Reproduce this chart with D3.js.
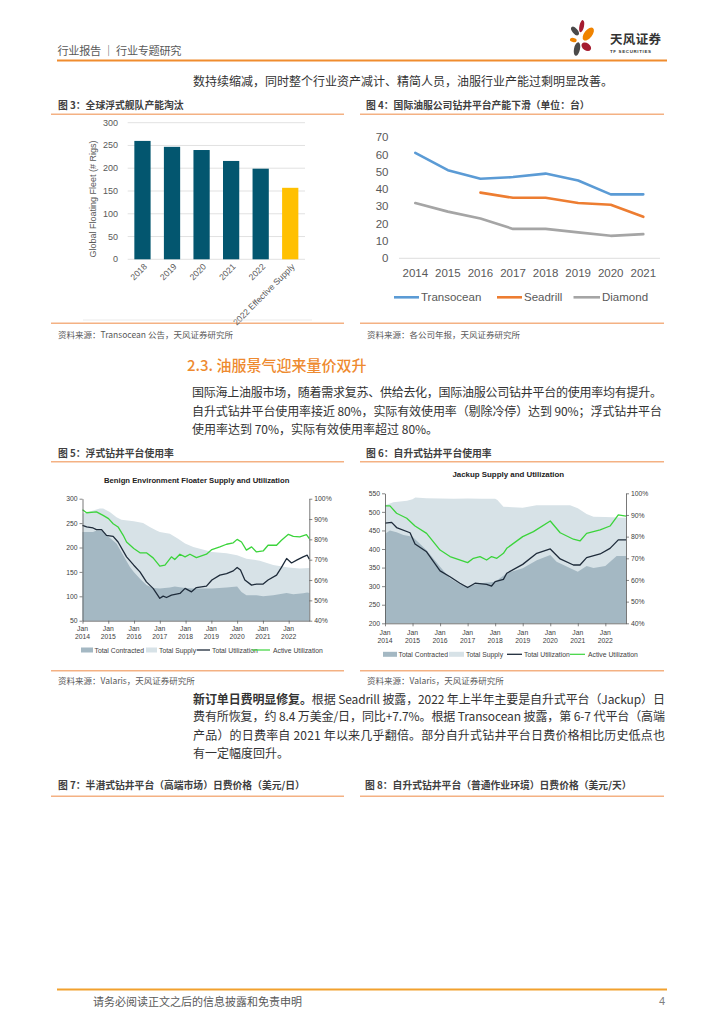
<!DOCTYPE html>
<html><head><meta charset="utf-8">
<script src="https://cdn.jsdelivr.net/npm/d3@7"></script>
<style>
body{margin:0;background:#fff;}
svg{display:block;}
text{font-family:"Noto Sans CJK SC","Liberation Sans",sans-serif;}
</style></head><body>
<svg id="page" width="724" height="1024"></svg>
<script>
// ---------- DATA ----------
const fleetCategories = ["2018","2019","2020","2021","2022","2022 Effective Supply"];
const fleetValues = [260,247,240,216,199,157];
const fleetTicks = [0,50,100,150,200,250,300];

const rigYears = ["2014","2015","2016","2017","2018","2019","2020","2021"];
const transoceanRigs = [61,51,46,47,49,45,37,37];
const seadrillRigs = [null,null,38,35,35,32,31,24];
const diamondRigs = [32,27,23,17,17,15,13,14];
const rigTicks = [0,10,20,30,40,50,60,70];

const yearTicks = [2014,2015,2016,2017,2018,2019,2020,2021,2022];

// Floater (benign environment): [decimal year, value]
const floaterSupply = [[2014.0,269],[2014.67,280],[2014.8,280],[2015.06,273],[2015.32,262],[2015.51,257],[2015.99,254],[2016.35,250],[2016.61,242],[2016.87,235],[2017.0,232],[2017.39,228],[2017.71,218],[2017.98,208],[2018.3,201],[2018.81,194],[2019.02,191],[2019.59,188],[2020.0,184],[2020.36,177],[2020.88,173],[2021.4,164],[2021.99,159],[2022.43,157],[2022.8,158]];
const floaterContracted = [[2014.0,232],[2014.41,232],[2014.54,235],[2014.74,235],[2015.01,222],[2015.32,208],[2015.58,184],[2015.84,160],[2015.99,150],[2016.23,136],[2016.48,123],[2016.74,117],[2017.0,116],[2017.39,118],[2017.58,120],[2017.98,117],[2018.3,116],[2019.02,116],[2019.59,118],[2020.0,120],[2020.17,109],[2020.36,102],[2020.75,102],[2021.01,100],[2021.4,102],[2021.92,107],[2022.18,104],[2022.56,106],[2022.72,108],[2022.8,107]];
const floaterTotalUtil = [[2014.0,86.9],[2014.16,86.1],[2014.41,85.6],[2014.54,84.8],[2014.74,84.8],[2014.93,82],[2015.19,81.5],[2015.38,78.7],[2015.71,71.4],[2015.99,67.3],[2016.23,64],[2016.48,59.1],[2016.74,55.9],[2017.0,51],[2017.13,52.1],[2017.26,51.4],[2017.45,52.6],[2017.78,53.4],[2017.98,55.9],[2018.23,54.2],[2018.42,56.3],[2018.81,57],[2019.02,60],[2019.33,62.4],[2019.59,63.2],[2019.85,64.5],[2020.0,66.2],[2020.13,64.9],[2020.3,60],[2020.56,57.5],[2020.75,58],[2021.01,58],[2021.2,60],[2021.53,62.4],[2021.72,66.2],[2021.92,70.6],[2022.11,68.4],[2022.31,69.8],[2022.56,71.4],[2022.72,72.2],[2022.8,70.2]];
const floaterActiveUtil = [[2014.0,94.6],[2014.16,93.1],[2014.54,93.5],[2014.8,91.8],[2015.01,90.2],[2015.19,87.7],[2015.38,86.1],[2015.58,82],[2015.71,78.7],[2015.99,75.5],[2016.23,73.4],[2016.48,73.4],[2016.74,70.9],[2017.0,66.8],[2017.2,67.3],[2017.45,71.4],[2017.58,70.1],[2017.78,72.7],[2017.98,71.4],[2018.17,72.7],[2018.42,71],[2018.81,72.7],[2019.02,75],[2019.33,76.3],[2019.59,77.6],[2019.85,78.3],[2020.0,80],[2020.17,78.7],[2020.36,74.7],[2020.56,76.3],[2020.75,73.8],[2021.01,74.3],[2021.2,77.1],[2021.53,77.1],[2021.72,79.6],[2021.99,82.5],[2022.18,81.5],[2022.43,81.2],[2022.69,82.3],[2022.8,80.4]];
const floaterLeftTicks = [50,100,150,200,250,300];

// Jackup
const jackupSupply = [[2014.0,518],[2014.3,526],[2014.8,530],[2015.0,534],[2015.1,539],[2015.5,537],[2016.0,536],[2016.5,535],[2017.0,536],[2017.5,535],[2018.0,535],[2018.08,532],[2018.3,514],[2019.0,511],[2019.5,518],[2020.0,518],[2020.72,518],[2021.0,510],[2021.32,494],[2021.57,487],[2022.0,486],[2022.75,484]];
const jackupContracted = [[2014.0,441],[2014.18,450],[2014.42,445],[2014.67,438],[2015.0,433],[2015.51,397],[2016.0,352],[2016.36,321],[2016.72,305],[2017.0,299],[2017.45,308],[2018.0,312],[2018.42,335],[2019.0,348],[2019.51,370],[2020.0,384],[2020.23,366],[2021.0,339],[2021.32,354],[2021.57,349],[2022.0,354],[2022.41,381],[2022.75,381]];
const jackupTotalUtil = [[2014.0,86.2],[2014.24,86.6],[2014.42,84.2],[2014.91,81.8],[2015.09,76.6],[2015.51,73],[2016.0,64.2],[2016.36,61.5],[2016.72,58.5],[2017.0,56.5],[2017.27,58.5],[2017.69,58],[2017.87,57.2],[2018.0,59.2],[2018.3,60.3],[2018.42,63.1],[2019.0,67.2],[2019.51,72.3],[2020.0,74.3],[2020.36,69.7],[2020.84,66.9],[2021.08,66.9],[2021.32,70.3],[2021.81,72],[2022.17,74.6],[2022.47,78.5],[2022.75,78.5]];
const jackupActiveUtil = [[2014.0,94.2],[2014.18,94.2],[2014.42,90.8],[2014.79,88.5],[2015.09,84.9],[2015.51,81.5],[2016.0,73.8],[2016.36,70.8],[2017.0,68],[2017.21,70],[2017.45,70.8],[2017.69,69.2],[2017.87,70.8],[2018.06,70],[2018.3,72.3],[2018.42,74.6],[2019.0,80],[2019.39,82.3],[2020.0,87.2],[2020.36,81.8],[2020.84,78.8],[2021.08,78],[2021.32,81.5],[2021.81,83.1],[2022.17,84.9],[2022.47,90],[2022.75,89.5]];
const jackupLeftTicks = [200,250,300,350,400,450,500,550];
const pctTicks = [40,50,60,70,80,90,100];

const legendNames = ["Total Contracted","Total Supply","Total Utilization","Active Utilization"];

// ---------- HELPERS ----------
const svg = d3.select("#page");
function T(x,y,s,o={}){
  const t = svg.append("text").attr("x",x).attr("y",y).attr("dominant-baseline","central")
    .style("font-size",(o.size||12)+"px").attr("fill",o.fill||"#333").text(s);
  if(o.weight) t.style("font-weight",o.weight);
  if(o.anchor) t.attr("text-anchor",o.anchor);
  if(o.family) t.style("font-family",o.family);
  if(o.len) t.attr("textLength",o.len).attr("lengthAdjust","spacing");
  return t;
}
function L(x1,y1,x2,y2,c,w){ return svg.append("line").attr("x1",x1).attr("y1",y1).attr("x2",x2).attr("y2",y2).attr("stroke",c).attr("stroke-width",w); }
const ORL = "#F4B183";
const LAT = "'Liberation Sans',Arial,sans-serif";

// ---------- HEADER ----------
T(57.5,50,"行业报告 ｜ 行业专题研究",{size:11.2,fill:"#595959",len:124});
svg.append("rect").attr("x",57).attr("y",59.5).attr("width",610).attr("height",2).attr("fill","#F08C2E");
const petals = [
  [575,31,2.6,5.2,-40,"#4A4A4A"],
  [581.7,26.2,2.3,6.2,12,"#A51C30"],
  [588.3,34,4,7.6,38,"#F08300"],
  [573.3,40,3.4,2.1,12,"#F08300"],
  [577,49,3,6.8,12,"#4A4A4A"],
  [586.3,46.7,5.3,3.6,35,"#A51C30"]
];
petals.forEach(p=>svg.append("ellipse").attr("cx",p[0]).attr("cy",p[1]).attr("rx",p[2]).attr("ry",p[3])
  .attr("transform",`rotate(${p[4]},${p[0]},${p[1]})`).attr("fill",p[5]));
T(610,38.5,"天风证券",{size:12.5,weight:"bold",fill:"#333",len:51});
T(610,51,"TF SECURITIES",{size:4.4,weight:"bold",fill:"#333",family:LAT,len:41});

T(193,80,"数持续缩减，同时整个行业资产减计、精简人员，油服行业产能过剩明显改善。",{size:12,fill:"#333"});

// ---------- FIGURE TITLES / SOURCES ----------
T(58,105,"图 3：全球浮式舰队产能淘汰",{size:9.8,weight:"bold",fill:"#404040"});
T(366,105,"图 4：国际油服公司钻井平台产能下滑（单位：台）",{size:9.8,weight:"bold",fill:"#404040"});
L(51,114.3,344,114.3,ORL,1.6); L(360,114.3,664,114.3,ORL,1.6);
L(51,323.3,344,323.3,ORL,1.6); L(360,323.3,664,323.3,ORL,1.6);
T(58,334,"资料来源：Transocean 公告，天风证券研究所",{size:8.5,fill:"#595959"});
T(367,334,"资料来源：各公司年报，天风证券研究所",{size:8.5,fill:"#595959"});

T(187,364,"2.3. 油服景气迎来量价双升",{size:15,fill:"#EE8A2F",weight:"500"});
T(192,391.7,"国际海上油服市场，随着需求复苏、供给去化，国际油服公司钻井平台的使用率均有提升。",{size:12,len:470});
T(192,410,"自升式钻井平台使用率接近 80%，实际有效使用率（剔除冷停）达到 90%；浮式钻井平台",{size:12,len:470});
T(192,428.3,"使用率达到 70%，实际有效使用率超过 80%。",{size:12});

T(58,452.7,"图 5：浮式钻井平台使用率",{size:9.8,weight:"bold",fill:"#404040"});
T(366,452.7,"图 6：自升式钻井平台使用率",{size:9.8,weight:"bold",fill:"#404040"});
L(51,461.7,344,461.7,ORL,1.6); L(360,461.7,664,461.7,ORL,1.6);
L(51,670.7,344,670.7,ORL,1.6); L(360,670.7,664,670.7,ORL,1.6);
T(58,679.5,"资料来源：Valaris，天风证券研究所",{size:8.5,fill:"#595959"});
T(367,679.5,"资料来源：Valaris，天风证券研究所",{size:8.5,fill:"#595959"});

const p2 = svg.append("text").attr("x",193).attr("y",697.5).attr("dominant-baseline","central")
  .style("font-size","12px").attr("fill","#333").attr("textLength",472).attr("lengthAdjust","spacing");
p2.append("tspan").style("font-weight","bold").text("新订单日费明显修复。");
p2.append("tspan").text("根据 Seadrill 披露，2022 年上半年主要是自升式平台（Jackup）日");
T(193,715.8,"费有所恢复，约 8.4 万美金/日，同比+7.7%。根据 Transocean 披露，第 6-7 代平台（高端",{size:12,len:472});
T(193,734.1,"产品）的日费率自 2021 年以来几乎翻倍。部分自升式钻井平台日费价格相比历史低点也",{size:12,len:472});
T(193,752.4,"有一定幅度回升。",{size:12});

T(58,785,"图 7：半潜式钻井平台（高端市场）日费价格（美元/日）",{size:9.8,weight:"bold",fill:"#404040"});
T(365,785,"图 8：自升式钻井平台（普通作业环境）日费价格（美元/天）",{size:9.8,weight:"bold",fill:"#404040"});
L(51,796.3,344,796.3,ORL,1.6); L(360,796.3,664,796.3,ORL,1.6);

// ---------- FOOTER ----------
svg.append("rect").attr("x",57).attr("y",988.5).attr("width",610).attr("height",2).attr("fill","#F2A12E");
T(93,1000.5,"请务必阅读正文之后的信息披露和免责申明",{size:11,fill:"#595959"});
T(665,1000.5,"4",{size:11,fill:"#808080",anchor:"end",family:LAT});

// ---------- FIG 3: bar chart ----------
(function(){
  const x = d3.scaleBand().domain(fleetCategories).range([127.7,305]).paddingInner(0.45).paddingOuter(0.225);
  const y = d3.scaleLinear().domain([0,300]).range([259.3,122.7]);
  const g = svg.append("g");
  g.selectAll("line.grid").data(fleetTicks).join("line")
    .attr("x1",127.7).attr("x2",305).attr("y1",d=>y(d)).attr("y2",d=>y(d))
    .attr("stroke","#D9D9D9").attr("stroke-width",0.8);
  g.selectAll("rect.bar").data(fleetCategories).join("rect")
    .attr("x",d=>x(d)).attr("width",x.bandwidth())
    .attr("y",(d,i)=>y(fleetValues[i])).attr("height",(d,i)=>y(0)-y(fleetValues[i]))
    .attr("fill",(d,i)=>i===fleetCategories.length-1?"#FFC000":"#03566F");
  fleetTicks.forEach(t=>T(118,y(t),String(t),{size:9,fill:"#595959",anchor:"end",family:LAT}));
  fleetCategories.forEach(c=>{
    const cx = x(c)+x.bandwidth()/2+3, cy = 265;
    T(cx,cy,c,{size:8.6,fill:"#595959",anchor:"end",family:LAT}).attr("transform",`rotate(-45,${cx},${cy})`);
  });
  const tt = T(93,199,"Global Floating Fleet (# Rigs)",{size:9,fill:"#595959",anchor:"middle",family:LAT});
  tt.attr("transform","rotate(-90,93,199)");
  L(83,320,312,320,"#E6E6E6",0.8);
})();

// ---------- FIG 4: line chart ----------
(function(){
  const x = d3.scalePoint().domain(rigYears).range([415.3,643.3]);
  const y = d3.scaleLinear().domain([0,70]).range([258.3,137.3]);
  L(399,y(0),660,y(0),"#D9D9D9",0.9);
  rigTicks.forEach(t=>T(388.5,y(t),String(t),{size:11.5,fill:"#595959",anchor:"end",family:LAT}));
  rigYears.forEach(yr=>T(x(yr),273,yr,{size:11.5,fill:"#595959",anchor:"middle",family:LAT}));
  const series = [[transoceanRigs,"#5B9BD5","Transocean"],[seadrillRigs,"#ED7D31","Seadrill"],[diamondRigs,"#A5A5A5","Diamond"]];
  const line = d3.line().defined(d=>d[1]!=null).x(d=>x(d[0])).y(d=>y(d[1]));
  series.forEach(s=>{
    svg.append("path").attr("d",line(rigYears.map((yr,i)=>[yr,s[0][i]])))
      .attr("fill","none").attr("stroke",s[1]).attr("stroke-width",2.6).attr("stroke-linejoin","round").attr("stroke-linecap","round");
  });
  const lg = [[394,419,421,"Transocean"],[497,522,524,"Seadrill"],[573.5,600,602,"Diamond"]];
  lg.forEach((l,i)=>{
    L(l[0],297.3,l[1],297.3,series[i][1],2.6);
    T(l[2],297.3,l[3],{size:11.5,fill:"#595959",family:LAT});
  });
})();

// ---------- FIG 5 / FIG 6: supply & utilization ----------
function utilChart(cfg){
  const x = d3.scaleLinear().domain(cfg.xDomain).range([cfg.left,cfg.right]);
  const yL = d3.scaleLinear().domain(cfg.lDomain).range([cfg.bottom,cfg.top]);
  const yR = d3.scaleLinear().domain([40,100]).range([cfg.bottom,cfg.top]);
  const g = svg.append("g");
  const areaL = d3.area().x(d=>x(d[0])).y0(yL(cfg.lDomain[0])).y1(d=>yL(d[1]));
  g.append("path").attr("d",areaL(cfg.supply)).attr("fill","#D7E2E7");
  g.append("path").attr("d",areaL(cfg.contracted)).attr("fill","#A4B8C3");
  const lineR = d3.line().x(d=>x(d[0])).y(d=>yR(d[1]));
  g.append("path").attr("d",lineR(cfg.total)).attr("fill","none").attr("stroke","#1E2B3A").attr("stroke-width",1.3).attr("stroke-linejoin","round");
  g.append("path").attr("d",lineR(cfg.active)).attr("fill","none").attr("stroke","#3BD43B").attr("stroke-width",1.3).attr("stroke-linejoin","round");
  const ax = (sel)=>{ sel.select(".domain").attr("stroke","#555").attr("stroke-width",0.8);
    sel.selectAll(".tick line").attr("stroke","#555").attr("stroke-width",0.7);
    sel.selectAll("text").style("font-family",LAT).style("font-size","6.8px").attr("fill","#404040"); };
  g.append("g").attr("transform",`translate(${cfg.left},0)`)
    .call(d3.axisLeft(yL).tickValues(cfg.lTicks).tickSize(3).tickSizeOuter(0).tickPadding(2)).call(ax);
  g.append("g").attr("transform",`translate(${cfg.right},0)`)
    .call(d3.axisRight(yR).tickValues(pctTicks).tickSize(3).tickSizeOuter(0).tickPadding(2).tickFormat(d=>d+"%")).call(ax);
  g.append("g").attr("transform",`translate(0,${cfg.bottom})`)
    .call(d3.axisBottom(x).tickValues(yearTicks).tickSize(3).tickSizeOuter(0).tickFormat("")).call(ax);
  yearTicks.forEach(yr=>{
    T(x(yr),cfg.janY,"Jan",{size:6.8,fill:"#404040",anchor:"middle",family:LAT});
    T(x(yr),cfg.janY+7.7,String(yr),{size:6.8,fill:"#404040",anchor:"middle",family:LAT});
  });
  T(cfg.titleX,cfg.titleY,cfg.title,{size:cfg.titleSize,weight:"bold",fill:"#222",anchor:"middle",family:LAT});
  const lgY = cfg.legendY, P = cfg.legendX;
  svg.append("rect").attr("x",P[0]).attr("y",lgY-2.5).attr("width",P[1]-P[0]).attr("height",5).attr("fill","#A4B8C3");
  T(P[1]+1.5,lgY,legendNames[0],{size:6.8,fill:"#404040",family:LAT});
  svg.append("rect").attr("x",P[2]).attr("y",lgY-2.5).attr("width",P[3]-P[2]).attr("height",5).attr("fill","#D7E2E7");
  T(P[3]+2,lgY,legendNames[1],{size:6.8,fill:"#404040",family:LAT});
  L(P[4],lgY,P[5],lgY,"#1E2B3A",1.3);
  T(P[5]+2,lgY,legendNames[2],{size:6.8,fill:"#404040",family:LAT});
  L(P[6],lgY,P[7],lgY,"#3BD43B",1.2);
  T(P[7]+3,lgY,legendNames[3],{size:6.8,fill:"#404040",family:LAT});
}
utilChart({xDomain:[2014,2022.8],left:82.5,right:309.3,top:498.7,bottom:620.7,lDomain:[50,300],lTicks:floaterLeftTicks,
  supply:floaterSupply,contracted:floaterContracted,total:floaterTotalUtil,active:floaterActiveUtil,
  janY:628.3,title:"Benign Environment Floater Supply and Utilization",titleX:196.7,titleY:480,titleSize:7.7,
  legendY:650,legendX:[81,93,146,157,196.7,210,252,270]});
utilChart({xDomain:[2014,2022.75],left:385,right:626,top:493.3,bottom:623.3,lDomain:[200,550],lTicks:jackupLeftTicks,
  supply:jackupSupply,contracted:jackupContracted,total:jackupTotalUtil,active:jackupActiveUtil,
  janY:632.7,title:"Jackup Supply and Utilization",titleX:508.3,titleY:474,titleSize:7.9,
  legendY:654.3,legendX:[383,397,449,464,507,522,570,585]});
</script>
</body></html>
